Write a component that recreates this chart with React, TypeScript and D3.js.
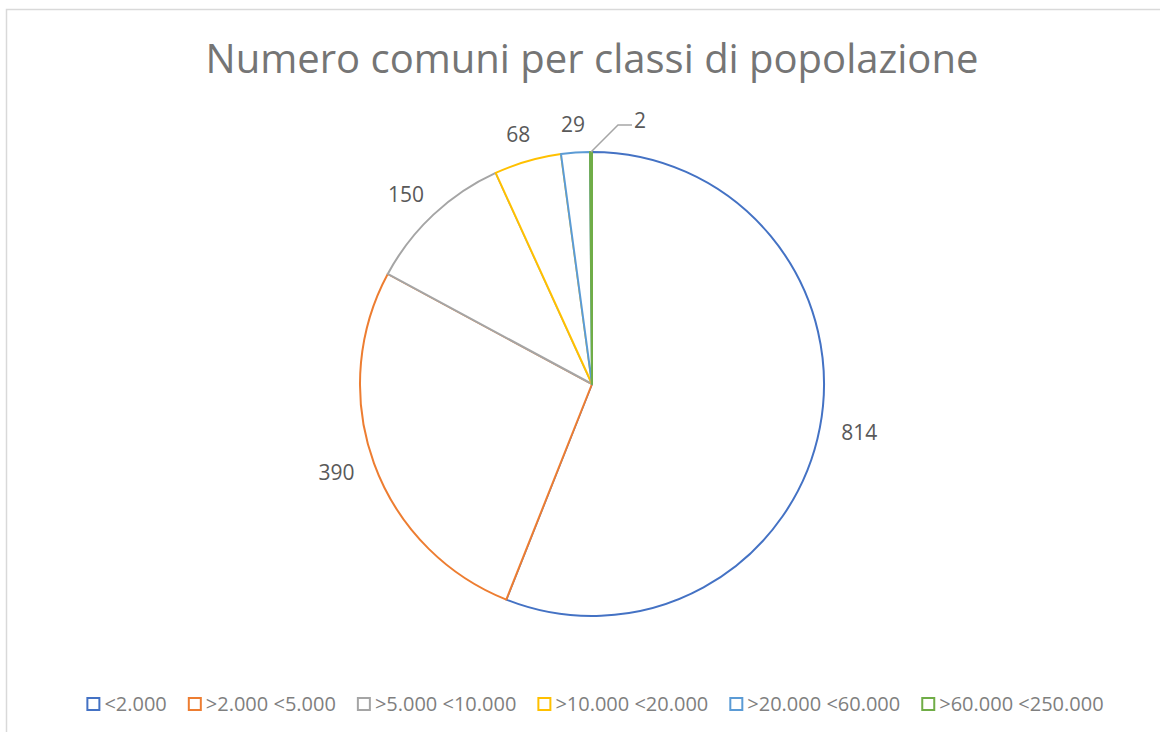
import React, { useEffect, useRef } from 'react';
import * as d3 from 'd3';

const title = 'Numero comuni per classi di popolazione';
const categories = ['<2.000', '>2.000 <5.000', '>5.000 <10.000', '>10.000 <20.000', '>20.000 <60.000', '>60.000 <250.000'];
const values = [814, 390, 150, 68, 29, 2];
const colors = ['#4472C4', '#ED7D31', '#A5A5A5', '#FFC000', '#5B9BD5', '#70AD47'];

const W = 1160;
const H = 732;
const FONT = "'Open Sans', 'DejaVu Sans', sans-serif";

export default function App() {
  const ref = useRef<SVGSVGElement>(null);

  useEffect(() => {
    const svg = d3.select(ref.current);
    svg.selectAll('*').remove();

    // chart border
    svg.append('rect')
      .attr('x', 6.5).attr('y', 9.5).attr('width', W).attr('height', H)
      .attr('fill', '#ffffff').attr('stroke', '#d9d9d9').attr('stroke-width', 1.5);

    // title
    svg.append('text')
      .attr('x', 592).attr('y', 59).attr('dy', '0.35em')
      .attr('text-anchor', 'middle')
      .attr('font-family', FONT).attr('font-size', 40)
      .attr('fill', '#757575')
      .text(title);

    const cx = 592, cy = 384, r = 232;
    const data = categories.map((c, i) => ({ c, v: values[i], color: colors[i] }));
    const total = d3.sum(values);
    const pie = d3.pie<any>().sort(null).value((d: any) => d.v);
    const arcs = pie(data);
    const arc = d3.arc<any>().innerRadius(0).outerRadius(r);

    const g = svg.append('g').attr('transform', `translate(${cx},${cy})`);
    g.selectAll('path.slice').data(arcs).enter().append('path')
      .attr('class', 'slice')
      .attr('d', arc as any)
      .attr('fill', '#ffffff')
      .attr('stroke', (d: any) => d.data.color)
      .attr('stroke-width', 2)
      .attr('stroke-linejoin', 'round');

    // labels
    const R = 254;
    const lh = 12;
    arcs.forEach((d: any) => {
      const th = (d.startAngle + d.endAngle) / 2;
      const s = Math.sin(th), co = Math.cos(th);
      if (d.data.v / total < 0.01) {
        const sx = s * r, sy = -co * r;
        const ex = sx + 27, ey = sy - 27;
        const fx = ex + 14, fy = ey;
        g.append('path')
          .attr('d', d3.line()([[sx, sy], [ex, ey], [fx, fy]]) as string)
          .attr('fill', 'none').attr('stroke', '#a6a6a6').attr('stroke-width', 1.5);
        g.append('text')
          .attr('x', fx + 2).attr('y', fy - 4).attr('dy', '0.35em')
          .attr('text-anchor', 'start')
          .attr('font-family', FONT).attr('font-size', 21)
          .attr('fill', '#595959')
          .text(String(d.data.v));
        return;
      }
      const t = g.append('text')
        .attr('text-anchor', 'middle').attr('dy', '0.35em')
        .attr('font-family', FONT).attr('font-size', 21)
        .attr('fill', '#595959')
        .text(String(d.data.v));
      const w = (t.node() as SVGTextElement).getComputedTextLength();
      const px = s * R + s * w / 2;
      const py = -co * R - co * lh / 2;
      t.attr('x', px).attr('y', py);
    });

    // legend
    const lg = svg.append('g');
    const sq = 12, pad = 5, gap = 22;
    const items = data.map((d) => {
      const it = lg.append('g');
      it.append('rect').attr('width', sq).attr('height', sq)
        .attr('x', 0).attr('y', -sq / 2)
        .attr('fill', '#ffffff').attr('stroke', d.color).attr('stroke-width', 2);
      const t = it.append('text').attr('x', sq + pad).attr('y', 0).attr('dy', '0.35em')
        .attr('font-family', FONT).attr('font-size', 20).attr('fill', '#7f7f7f')
        .text(d.c);
      const w = sq + pad + (t.node() as SVGTextElement).getComputedTextLength();
      return { it, w };
    });
    const totalW = d3.sum(items, (d) => d.w) + gap * (items.length - 1);
    let x = 595.5 - totalW / 2;
    items.forEach((d) => {
      d.it.attr('transform', `translate(${x},704)`);
      x += d.w + gap;
    });
  }, []);

  return (
    <svg ref={ref} width={W} height={H}
      style={{ position: 'absolute', left: 0, top: 0, display: 'block' }} />
  );
}
